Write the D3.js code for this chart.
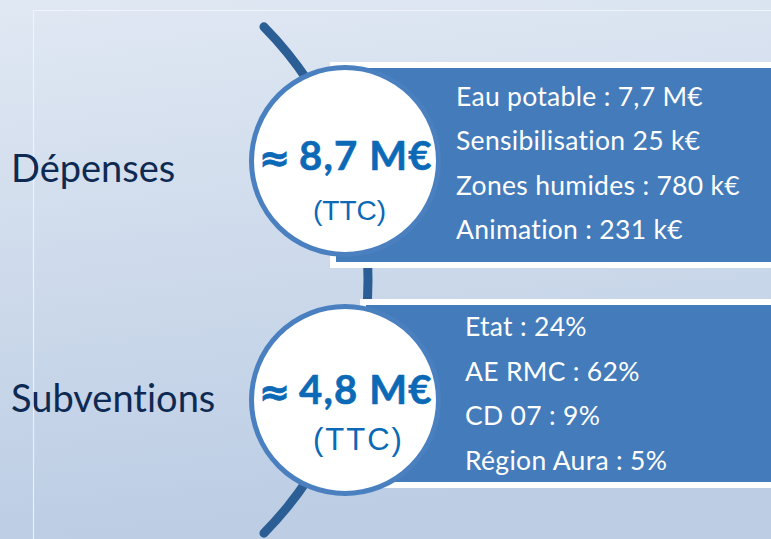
<!DOCTYPE html>
<html>
<head>
<meta charset="utf-8">
<script src="https://d3js.org/d3.v7.min.js"></script>
<style>
  body { margin: 0; overflow: hidden; }
  svg { display: block; }
  text { font-variant-ligatures: none; }
</style>
</head>
<body>
<svg width="771" height="539"></svg>
<script>
// data
const groups = ["Dépenses", "Subventions"];
const totals = ["8,7 M€", "4,8 M€"];
const totalNotes = ["(TTC)", "(TTC)"];
const depensesItems = ["Eau potable : 7,7 M€", "Sensibilisation 25 k€", "Zones humides : 780 k€", "Animation : 231 k€"];
const subventionsItems = ["Etat : 24%", "AE RMC : 62%", "CD 07 : 9%", "Région Aura : 5%"];
const items = [depensesItems, subventionsItems];

const svg = d3.select("svg"), width = +svg.attr("width"), height = +svg.attr("height");

// layout
const boxBlue = "#437bbb", ringBlue = "#4a80c0", arcBlue = "#2a5e94", valueBlue = "#0c69b6";
const y = d3.scalePoint().domain(groups).range([161, 400]);        // circle centres
const labelY = d3.scalePoint().domain(groups).range([182, 412]);   // group label baselines
const valueY = d3.scalePoint().domain(groups).range([170, 404]);   // total baselines
const noteY = d3.scalePoint().domain(groups).range([220, 450]);    // (TTC) baselines
const circleX = 345, circleR = 93.5;
const boxes = {
  "Dépenses":    { x: 330, top: 62,  bottom: 268, textX: 456, first: 106, last: 239 },
  "Subventions": { x: 360, top: 299, bottom: 488, textX: 465, first: 336, last: 470 }
};

// background
const defs = svg.append("defs");
const grad = defs.append("linearGradient").attr("id", "bg")
    .attr("x1", 0).attr("y1", 0).attr("x2", 0.15).attr("y2", 1);
grad.append("stop").attr("offset", "0%").attr("stop-color", "#e0e8f3");
grad.append("stop").attr("offset", "100%").attr("stop-color", "#bccde4");
svg.append("rect").attr("width", width).attr("height", height).attr("fill", "url(#bg)");

// thin frame
svg.append("path")
    .attr("d", `M33.5,${height} V10.5 H${width}`)
    .attr("fill", "none")
    .attr("stroke", "#f4f7fb")
    .attr("stroke-opacity", 0.8)
    .attr("stroke-width", 1.2);

// big connecting arc (behind everything)
const arcCx = 8, arcCy = 280, arcR = 360;
svg.append("path")
    .attr("transform", `translate(${arcCx},${arcCy})`)
    .attr("d", d3.arc()
      .innerRadius(arcR - 4.5)
      .outerRadius(arcR + 4.5)
      .startAngle(44.6 * Math.PI / 180)
      .endAngle(135.4 * Math.PI / 180)
      .cornerRadius(4.5)())
    .attr("fill", arcBlue);

// detail boxes
const box = svg.selectAll("g.box")
  .data(groups)
  .join("g")
    .attr("class", "box");

box.append("rect")
    .attr("x", d => boxes[d].x)
    .attr("y", d => boxes[d].top)
    .attr("width", d => width + 20 - boxes[d].x)
    .attr("height", d => boxes[d].bottom - boxes[d].top)
    .attr("fill", "#ffffff");

box.append("rect")
    .attr("x", d => boxes[d].x + 6)
    .attr("y", d => boxes[d].top + 6)
    .attr("width", d => width + 20 - boxes[d].x)
    .attr("height", d => boxes[d].bottom - boxes[d].top - 12)
    .attr("fill", boxBlue);

box.each(function(d, i) {
  const b = boxes[d];
  const ly = d3.scalePoint().domain(items[i]).range([b.first, b.last]);
  d3.select(this).selectAll("text")
    .data(items[i])
    .join("text")
      .attr("x", b.textX)
      .attr("y", t => ly(t))
      .attr("fill", "#ffffff")
      .attr("font-family", "Lato, 'Open Sans', sans-serif")
      .attr("font-size", 26.5)
      .attr("letter-spacing", 0.3)
      .text(t => t);
});

// circles
svg.selectAll("circle.total")
  .data(groups)
  .join("circle")
    .attr("class", "total")
    .attr("cx", circleX)
    .attr("cy", d => y(d))
    .attr("r", circleR)
    .attr("fill", "#ffffff")
    .attr("stroke", ringBlue)
    .attr("stroke-width", 5);

// "≈" sign
svg.selectAll("text.approx")
  .data(groups)
  .join("text")
    .attr("class", "approx")
    .attr("x", 259)
    .attr("y", d => valueY(d) + 1)
    .attr("fill", valueBlue)
    .attr("stroke", valueBlue)
    .attr("stroke-width", 0.8)
    .attr("font-family", "'DejaVu Sans', sans-serif")
    .attr("font-weight", "bold")
    .attr("font-size", 37)
    .text("≈");

svg.selectAll("text.value")
  .data(groups)
  .join("text")
    .attr("class", "value")
    .attr("x", 299)
    .attr("y", d => valueY(d))
    .attr("fill", valueBlue)
    .attr("stroke", valueBlue)
    .attr("stroke-width", 0.6)
    .attr("font-family", "Lato, sans-serif")
    .attr("font-weight", "bold")
    .attr("font-size", 40)
    .attr("letter-spacing", 1.2)
    .text((d, i) => totals[i]);

svg.selectAll("text.note")
  .data(groups)
  .join("text")
    .attr("class", "note")
    .attr("x", 313)
    .attr("y", d => noteY(d))
    .attr("fill", valueBlue)
    .attr("font-family", "'Liberation Sans', Arial, sans-serif")
    .attr("font-size", (d, i) => i === 0 ? 28 : 31)
    .attr("letter-spacing", (d, i) => i === 0 ? 0 : 2)
    .text((d, i) => totalNotes[i]);

// group labels
svg.selectAll("text.group")
  .data(groups)
  .join("text")
    .attr("class", "group")
    .attr("x", 11)
    .attr("y", d => labelY(d))
    .attr("fill", "#0e2a52")
    .attr("font-family", "Lato, sans-serif")
    .attr("font-size", 38)
    .text(d => d);
</script>
</body>
</html>
